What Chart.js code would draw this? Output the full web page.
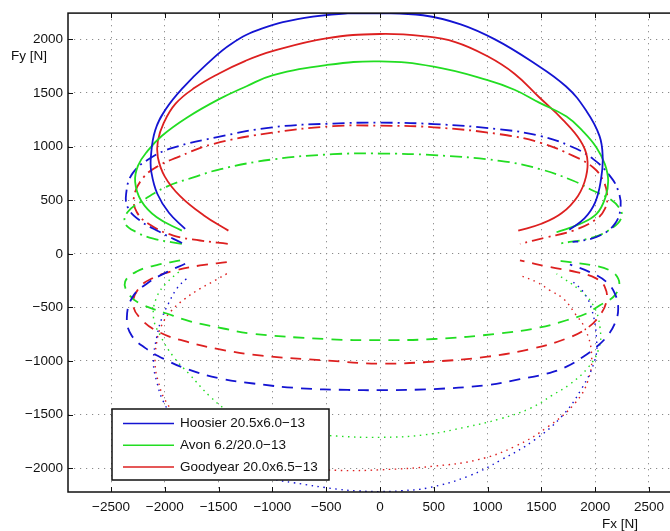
<!DOCTYPE html>
<html>
<head>
<meta charset="utf-8">
<script src="https://cdn.jsdelivr.net/npm/chart.js@4.4.1/dist/chart.umd.min.js"></script>
<style>
  html, body { margin: 0; padding: 0; background: #fff; overflow: hidden; }
  #wrap { width: 700px; height: 531px; }
</style>
</head>
<body>
<div id="wrap"><canvas id="myChart" width="700" height="531"></canvas></div>
<script>
// tick positions
const xTicks = [-2500, -2000, -1500, -1000, -500, 0, 500, 1000, 1500, 2000, 2500];
const yTicks = [-2000, -1500, -1000, -500, 0, 500, 1000, 1500, 2000];

const tyreNames = ['Hoosier 20.5x6.0\u221213', 'Avon 6.2/20.0\u221213', 'Goodyear 20.0x6.5\u221213'];

// Hoosier, [Fx, Fy], one array per load case
const hoosier1 = [[-1811,232],[-1960,380],[-2070,560],[-2125,760],[-2130,900],[-2090,1150],[-1990,1350],[-1830,1550],[-1620,1760],[-1380,1960],[-1100,2100],[-700,2200],[-300,2242],[0,2245],[400,2225],[750,2140],[1068,2000],[1400,1800],[1730,1560],[1920,1330],[2040,1100],[2070,900],[2055,700],[2000,480],[1900,330],[1760,225]];
const hoosier2 = [[-1840,100],[-2050,205],[-2230,309],[-2340,425],[-2360,557],[-2300,750],[-2130,895],[-1920,990],[-1502,1090],[-1000,1180],[-437,1215],[0,1223],[500,1210],[1115,1161],[1486,1099],[1765,1006],[1982,883],[2137,727],[2214,588],[2236,433],[2183,279],[2044,170],[1858,117],[1790,112]];
const hoosier3 = [[-1811,-93],[-1982,-171],[-2168,-279],[-2300,-403],[-2353,-600],[-2310,-760],[-2180,-880],[-1990,-990],[-1780,-1080],[-1500,-1160],[-1177,-1210],[-743,-1254],[-300,-1270],[0,-1272],[495,-1262],[991,-1225],[1300,-1170],[1540,-1120],[1734,-1053],[1889,-960],[2013,-868],[2106,-775],[2183,-650],[2214,-511],[2183,-372],[2106,-264],[1951,-171],[1765,-100]];
const hoosier4 = [[-1800,-232],[-1889,-325],[-1966,-464],[-2029,-604],[-2075,-775],[-2106,-1007],[-2075,-1193],[-2013,-1379],[-1900,-1560],[-1700,-1800],[-1400,-1980],[-1000,-2100],[-805,-2135],[-402,-2195],[-200,-2212],[0,-2218],[200,-2210],[449,-2183],[820,-2075],[1131,-1920],[1440,-1734],[1688,-1518],[1873,-1260],[1997,-991],[2013,-800],[1966,-511],[1889,-356],[1780,-248]];

// Avon
const avon1 = [[-1842,216],[-2075,340],[-2220,495],[-2276,670],[-2250,820],[-2160,960],[-2029,1099],[-1796,1269],[-1500,1440],[-1240,1563],[-1000,1665],[-500,1760],[0,1795],[500,1745],[1000,1620],[1250,1530],[1480,1410],[1734,1280],[1889,1140],[2013,990],[2090,836],[2121,681],[2095,526],[2013,372],[1858,279],[1641,201]];
const avon2 = [[-1842,93],[-2106,141],[-2260,200],[-2369,285],[-2345,390],[-2200,500],[-1982,627],[-1734,712],[-1480,790],[-1000,880],[-437,929],[0,935],[500,920],[1115,867],[1486,790],[1796,681],[1982,588],[2137,511],[2230,418],[2245,340],[2168,247],[1982,154],[1657,93]];
const avon3 = [[-1858,-62],[-2075,-105],[-2261,-165],[-2369,-260],[-2338,-372],[-2230,-464],[-1982,-557],[-1765,-630],[-1456,-697],[-1208,-743],[-500,-796],[0,-805],[500,-795],[1115,-743],[1486,-687],[1734,-620],[1920,-557],[2044,-480],[2168,-403],[2220,-310],[2214,-232],[2137,-155],[1982,-109],[1765,-78],[1641,-62]];
const avon4 = [[-1870,-170],[-1982,-270],[-2075,-403],[-2106,-589],[-2044,-759],[-1920,-960],[-1765,-1131],[-1579,-1332],[-1424,-1456],[-1200,-1560],[-800,-1660],[-402,-1700],[0,-1712],[402,-1690],[805,-1615],[1115,-1540],[1400,-1440],[1600,-1320],[1760,-1220],[1935,-1060],[2035,-880],[2044,-682],[1982,-480],[1858,-341],[1641,-186]];

// Goodyear
const goodyear1 = [[-1409,216],[-1640,360],[-1860,540],[-2000,720],[-2065,900],[-2065,1050],[-2010,1220],[-1900,1400],[-1720,1550],[-1500,1680],[-1250,1800],[-1000,1890],[-500,2010],[0,2050],[400,2030],[700,1975],[1000,1842],[1250,1680],[1480,1460],[1700,1250],[1860,1060],[1925,900],[1915,720],[1840,540],[1690,380],[1500,280],[1285,216]];
const goodyear2 = [[-1415,93],[-1672,124],[-1920,170],[-2137,270],[-2261,390],[-2285,540],[-2200,710],[-2060,820],[-1890,897],[-1560,1022],[-1000,1130],[-437,1190],[0,1195],[500,1180],[1115,1115],[1486,1037],[1796,913],[1982,805],[2075,681],[2112,542],[2090,418],[2013,325],[1796,216],[1549,154],[1301,93]];
const goodyear3 = [[-1424,-78],[-1672,-109],[-1920,-160],[-2120,-230],[-2240,-320],[-2295,-470],[-2220,-610],[-2044,-735],[-1796,-820],[-1500,-890],[-1100,-950],[-500,-995],[0,-1025],[500,-1005],[1000,-960],[1424,-883],[1734,-790],[1920,-697],[2044,-573],[2106,-434],[2090,-310],[2013,-232],[1827,-171],[1579,-124],[1301,-62]];
const goodyear4 = [[-1424,-186],[-1533,-248],[-1672,-325],[-1811,-418],[-1935,-527],[-2029,-666],[-2075,-821],[-2090,-1037],[-2060,-1193],[-2000,-1360],[-1850,-1560],[-1600,-1760],[-1250,-1910],[-800,-1990],[-400,-2020],[0,-2015],[511,-1980],[913,-1920],[1254,-1797],[1564,-1611],[1812,-1394],[1935,-1177],[1966,-929],[1905,-697],[1812,-557],[1703,-418],[1579,-341],[1456,-264],[1301,-202]];

const tyreCurves = [
  [hoosier1, hoosier2, hoosier3, hoosier4],
  [avon1, avon2, avon3, avon4],
  [goodyear1, goodyear2, goodyear3, goodyear4]
];

const tyreColors = ['#1414d2', '#22dd22', '#dd2020'];
// solid, dash-dot, dashed, dotted
const lineDashes = [[], [12, 5, 2, 5], [11, 8], [1.5, 4.5]];
const lineWidths = [1.8, 1.8, 1.8, 1.4];

const datasets = [];
// solid curves first so the legend picks them up in order
for (let load = 0; load < 4; load++) {
  for (let t = 0; t < tyreNames.length; t++) {
    datasets.push({
      label: tyreNames[t],
      inLegend: load === 0,
      data: tyreCurves[t][load].map(p => ({x: p[0], y: p[1]})),
      showLine: true,
      fill: false,
      borderColor: tyreColors[t],
      borderWidth: lineWidths[load],
      borderDash: lineDashes[load],
      tension: 0.42,
      pointRadius: 0
    });
  }
}

const tickFont = {family: '"Liberation Sans", Arial, sans-serif', size: 13.5};
const minusFmt = v => v < 0 ? '\u2212' + Math.abs(v) : String(v);

const framePlugin = {
  id: 'frame',
  afterDatasetsDraw(chart) {
    const ctx = chart.ctx;
    const a = chart.chartArea;
    const x = chart.scales.x, y = chart.scales.y;
    ctx.save();

    // box and inward ticks, matlab style
    ctx.strokeStyle = '#111';
    ctx.lineWidth = 1.5;
    ctx.strokeRect(a.left, a.top, a.right - a.left, a.bottom - a.top);
    ctx.lineWidth = 1;
    ctx.beginPath();
    xTicks.forEach(v => {
      const px = Math.round(x.getPixelForValue(v)) + 0.5;
      ctx.moveTo(px, a.top); ctx.lineTo(px, a.top + 5);
      ctx.moveTo(px, a.bottom); ctx.lineTo(px, a.bottom - 5);
    });
    yTicks.forEach(v => {
      const py = Math.round(y.getPixelForValue(v)) + 0.5;
      ctx.moveTo(a.left, py); ctx.lineTo(a.left + 5, py);
      ctx.moveTo(a.right, py); ctx.lineTo(a.right - 5, py);
    });
    ctx.stroke();

    // axis labels
    ctx.font = '13.5px "Liberation Sans", Arial, sans-serif';
    ctx.fillStyle = '#111';
    ctx.textBaseline = 'middle';
    ctx.textAlign = 'left';
    ctx.fillText('Fy [N]', 11, 56);
    ctx.fillText('Fx [N]', 602, 524);

    // legend inside the axes, bottom left
    const items = chart.data.datasets.filter(d => d.inLegend);
    const bx = a.left + 44, by = a.bottom - 83, bw = 217, bh = 71;
    ctx.fillStyle = '#fff';
    ctx.fillRect(bx, by, bw, bh);
    ctx.lineWidth = 1.5;
    ctx.strokeRect(bx, by, bw, bh);
    items.forEach((d, i) => {
      const yy = by + 14.5 + i * 21.7;
      ctx.strokeStyle = d.borderColor;
      ctx.lineWidth = 1.5;
      ctx.beginPath();
      ctx.moveTo(bx + 11, yy);
      ctx.lineTo(bx + 62, yy);
      ctx.stroke();
      ctx.fillStyle = '#111';
      ctx.fillText(d.label, bx + 68, yy);
    });
    ctx.restore();
  }
};

const config = {
  type: 'scatter',
  data: { datasets: datasets },
  options: {
    responsive: false,
    animation: false,
    events: [],
    layout: { padding: { top: 12, right: 8, left: 0, bottom: 0 } },
    plugins: {
      legend: { display: false },
      tooltip: { enabled: false }
    },
    scales: {
      x: {
        type: 'linear',
        min: -2900,
        max: 2900,
        afterBuildTicks: s => { s.ticks = xTicks.map(v => ({value: v})); },
        afterFit: s => { s.height = 39; },
        ticks: { font: tickFont, color: '#111', padding: 7, maxRotation: 0, callback: minusFmt },
        grid: { color: '#8a8a8a', lineWidth: 1, drawTicks: false },
        border: { display: false, dash: [1.2, 4.8] }
      },
      y: {
        type: 'linear',
        min: -2222,
        max: 2245,
        afterBuildTicks: s => { s.ticks = yTicks.map(v => ({value: v})); },
        afterFit: s => { s.width = 68; },
        ticks: { font: tickFont, color: '#111', padding: 5, callback: minusFmt },
        grid: { color: '#8a8a8a', lineWidth: 1, drawTicks: false },
        border: { display: false, dash: [1.2, 4.8] }
      }
    }
  },
  plugins: [framePlugin]
};

const myChart = new Chart(document.getElementById('myChart'), config);
</script>
</body>
</html>
